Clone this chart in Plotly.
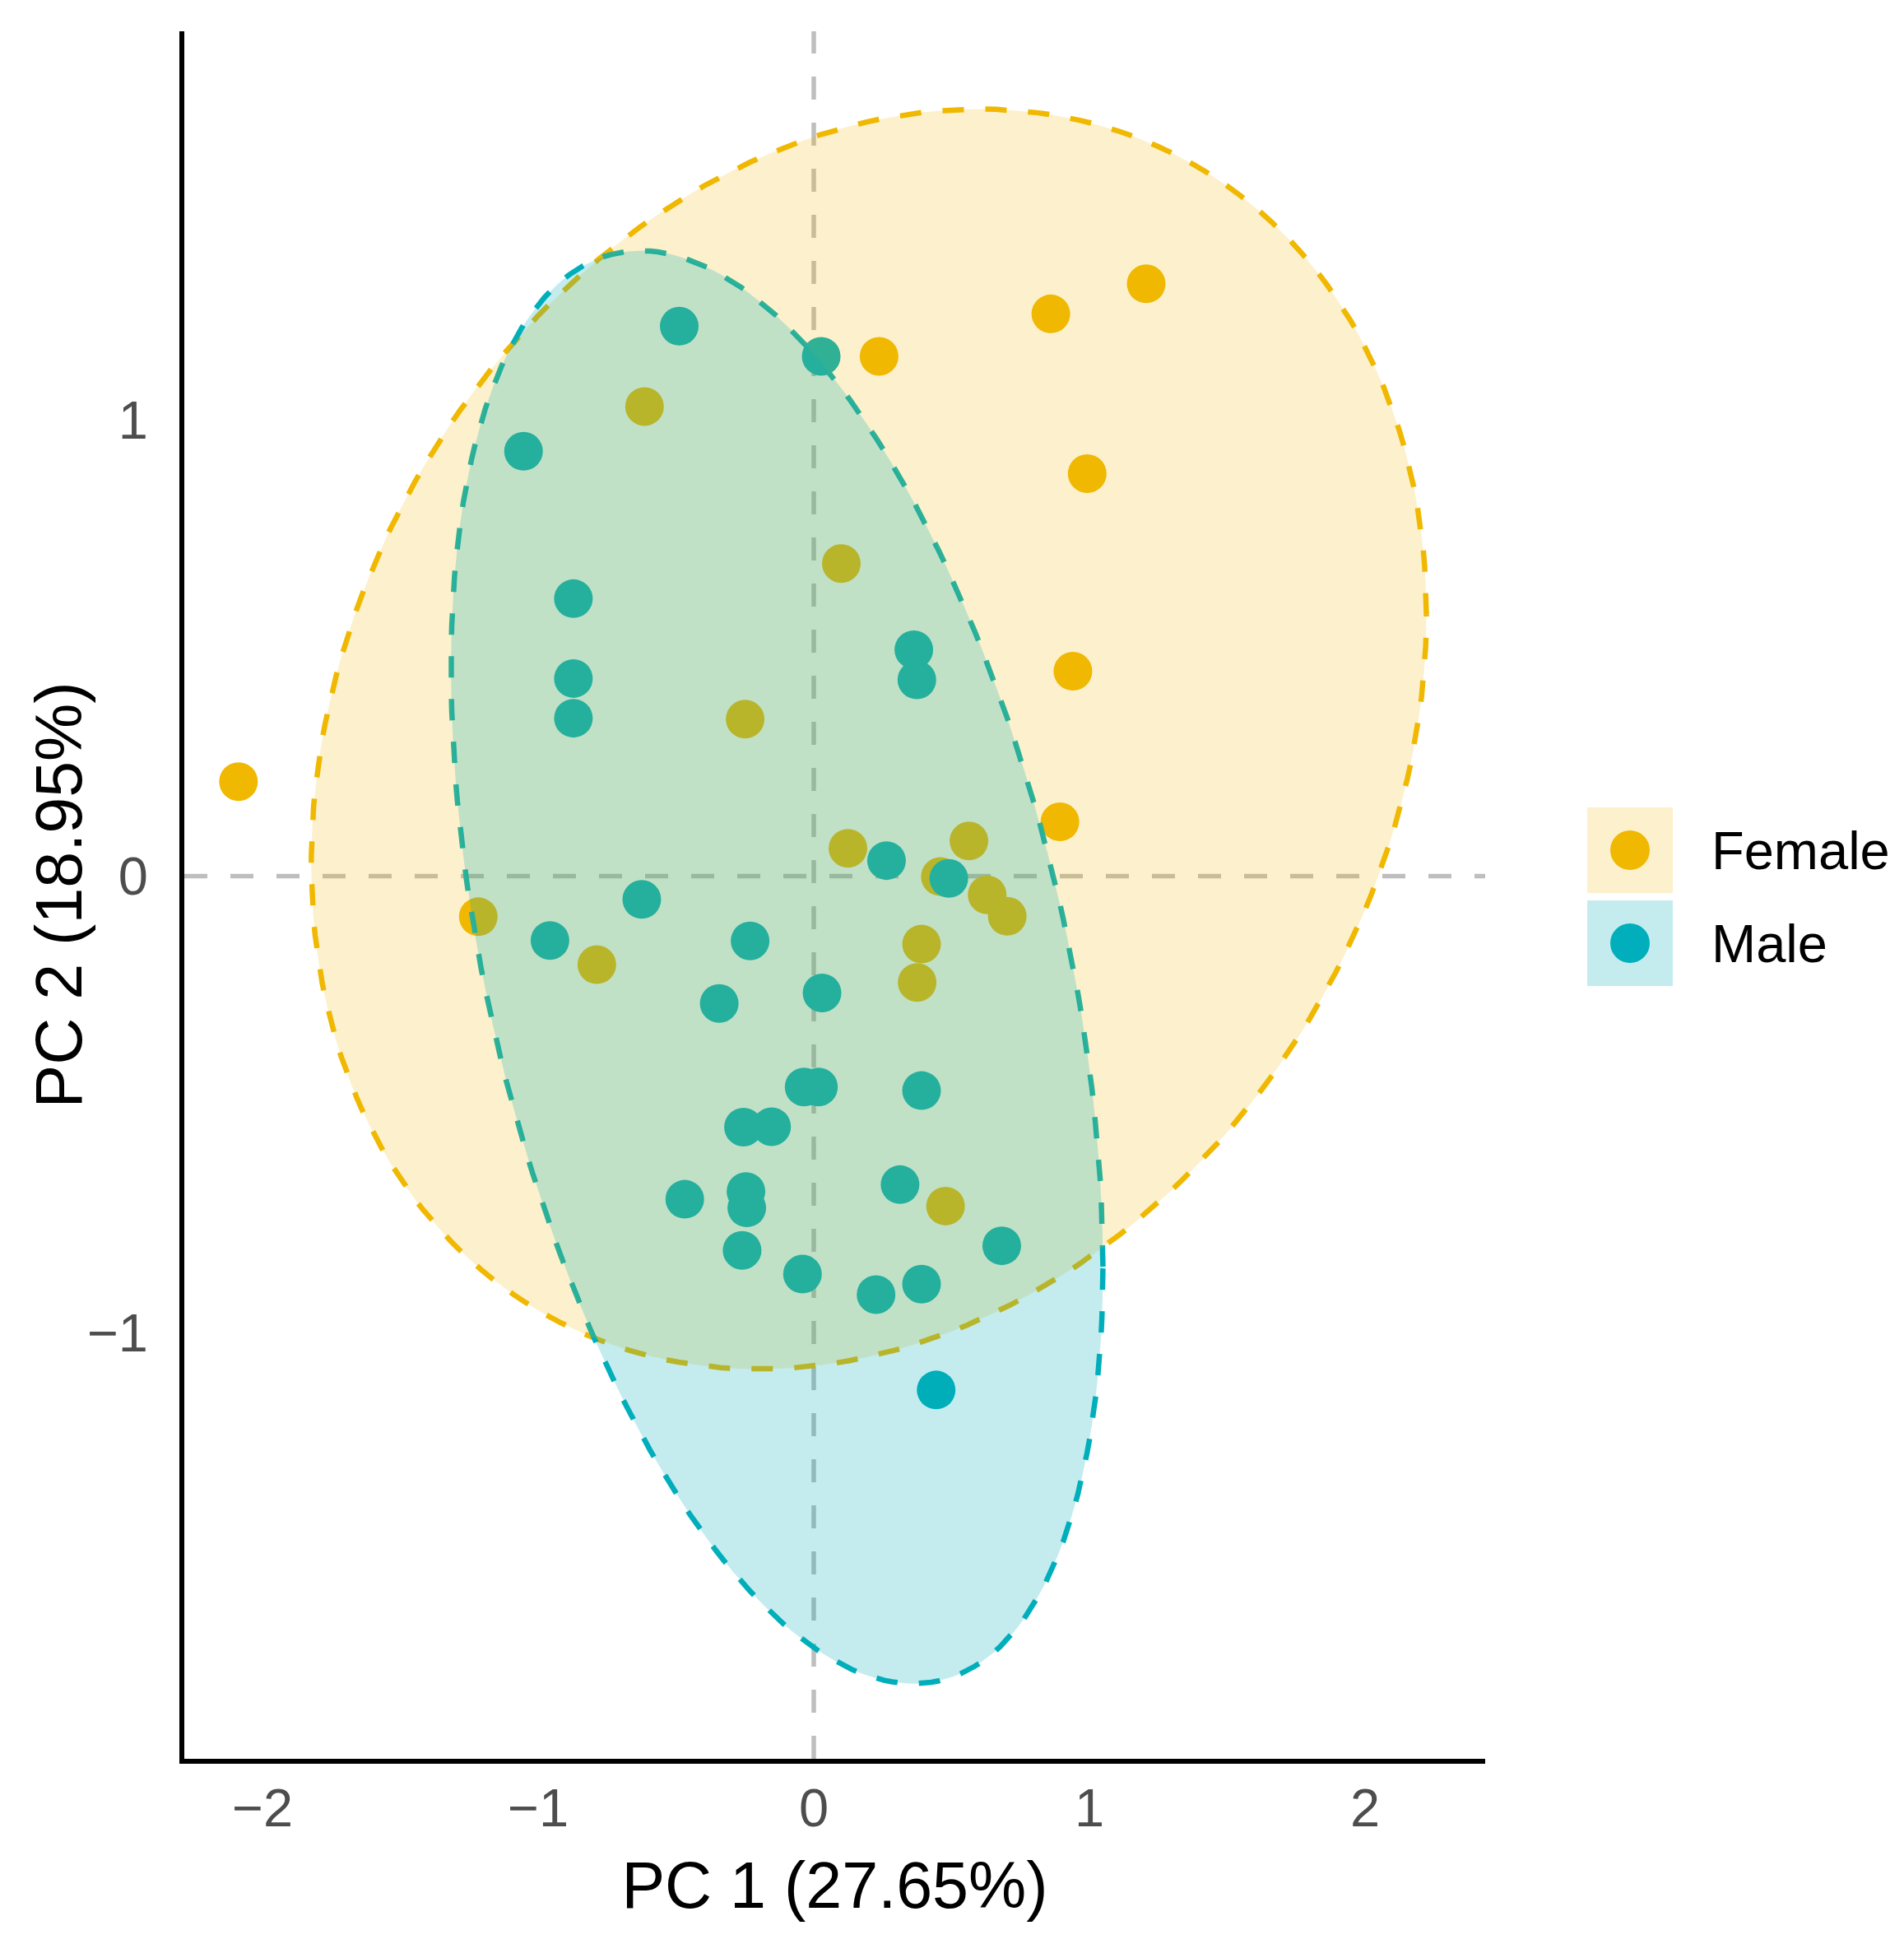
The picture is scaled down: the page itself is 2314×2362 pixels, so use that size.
import numpy as np
import plotly.graph_objects as go

# PCA individuals (PC1, PC2)
female_pc1 = [-0.614, 0.100, -0.249, -2.087, 0.237, 0.860, 1.206, 0.992, 0.940, 0.893,
              0.124, 0.563, 0.459, 0.629, 0.702, 0.391, 0.375, 0.478, -1.217, -0.787]
female_pc2 = [1.029, 0.685, 0.344, 0.207, 1.139, 1.232, 1.298, 0.882, 0.449, 0.119,
              0.061, 0.077, -0.001, -0.041, -0.088, -0.149, -0.233, -0.723, -0.089, -0.194]

male_pc1 = [-0.488, 0.027, -1.053, -0.872, -0.872, -0.872, 0.363, 0.374, 0.264, 0.490,
            0.030, -0.035, 0.017, 0.391, 0.313, 0.682, -0.041, 0.226, 0.391, -0.624,
            -0.957, -0.231, -0.343, -0.255, -0.153, -0.468, -0.246, -0.243, -0.260, 0.444]
male_pc2 = [1.205, 1.139, 0.931, 0.608, 0.433, 0.346, 0.496, 0.430, 0.034, -0.005,
            -0.256, -0.462, -0.462, -0.470, -0.676, -0.810, -0.872, -0.917, -0.894, -0.051,
            -0.141, -0.142, -0.279, -0.550, -0.549, -0.708, -0.691, -0.727, -0.820, -1.126]

groups = ["Female", "Male"]
colors = ["#F0B800", "#00AFBB"]
fills = ["rgba(240,184,0,0.2)", "rgba(0,175,187,0.23)"]

x_ticks = [-2, -1, 0, 1, 2]
y_ticks = [-1, 0, 1]
x_title = "PC 1 (27.65%)"
y_title = "PC 2 (18.95%)"


def conf_ellipse(x, y, level=0.95, n=240):
    # normal-theory ellipse: centre + sqrt(chi2_2(level)) * chol(cov) * unit circle
    x = np.asarray(x)
    y = np.asarray(y)
    cov = np.cov(x, y)
    r = np.sqrt(-2 * np.log(1 - level))
    L = np.linalg.cholesky(cov)
    t = np.linspace(0, 2 * np.pi, n)
    circ = np.vstack([np.cos(t), np.sin(t)])
    pts = L @ circ * r
    return x.mean() + pts[0], y.mean() + pts[1]


W, H = 2314, 2362
OFF = 8                                  # page body margin
PL, PR, PT, PB = 224, 1805, 38, 2137     # plot area in window px
X0, UX = 989, 335                        # px of x=0, px per unit
Y0, UY = 1064.5, 554.5


def fx(p):
    return (p - PL) / (PR - PL)


def fy(p):
    return (PB - p) / (PB - PT)


fig = go.Figure()

data = [(female_pc1, female_pc2), (male_pc1, male_pc2)]

# points first (the ellipses sit on top of them)
for (xs, ys), g, c in zip(data, groups, colors):
    fig.add_trace(go.Scatter(x=xs, y=ys, mode="markers", name=g, showlegend=False,
                             marker=dict(size=47, color=c, line=dict(width=0))))

ells = [conf_ellipse(xs, ys) for xs, ys in data]

# ellipse borders
for (ex, ey), c in zip(ells, colors):
    fig.add_trace(go.Scatter(x=ex, y=ey, mode="lines", showlegend=False, hoverinfo="skip",
                             line=dict(color=c, width=6.5, dash="26px,26px")))

# ellipse fills over everything
for (ex, ey), f in zip(ells, fills):
    fig.add_trace(go.Scatter(x=ex, y=ey, mode="lines", fill="toself", fillcolor=f,
                             showlegend=False, hoverinfo="skip",
                             line=dict(color="rgba(0,0,0,0)", width=0)))

shapes = [
    dict(type="line", xref="x", yref="paper", x0=0, x1=0, y0=0, y1=1, layer="below",
         line=dict(color="#BEBEBE", width=5.5, dash="28px,28px")),
    dict(type="line", xref="paper", yref="y", x0=0, x1=1, y0=0, y1=0, layer="below",
         line=dict(color="#BEBEBE", width=5.5, dash="28px,28px")),
]

# y axis title as a rotated annotation (standoff can't get it close enough)
annotations = [dict(text=y_title, xref="paper", yref="paper", x=fx(71), y=0.5,
                    xanchor="center", yanchor="middle", textangle=-90, showarrow=False,
                    font=dict(size=79, color="black"))]

key_tops = [981, 1094]
for i, g in enumerate(groups):
    top = key_tops[i]
    bot = top + 104
    cy = (top + bot) / 2
    shapes.append(dict(type="rect", xref="paper", yref="paper",
                       x0=fx(1929), x1=fx(2033), y0=fy(bot), y1=fy(top),
                       fillcolor=fills[i], line=dict(width=0)))
    shapes.append(dict(type="circle", xref="paper", yref="paper",
                       x0=fx(1981 - 24), x1=fx(1981 + 24), y0=fy(cy + 24), y1=fy(cy - 24),
                       fillcolor=colors[i], line=dict(width=0)))
    annotations.append(dict(text=g, xref="paper", yref="paper", x=fx(2078), y=fy(cy),
                            xanchor="left", yanchor="middle", showarrow=False,
                            font=dict(size=65, color="black")))

fig.update_layout(
    width=W - OFF, height=H - OFF,
    margin=dict(l=PL - OFF, r=W - PR, t=PT - OFF, b=H - PB),
    plot_bgcolor="white", paper_bgcolor="white",
    font=dict(family="Liberation Sans, Arial, sans-serif"),
    shapes=shapes, annotations=annotations,
    showlegend=False,
)

fig.update_xaxes(range=[(PL - X0) / UX, (PR - X0) / UX], tickvals=x_ticks,
                 showgrid=False, zeroline=False,
                 showline=True, linecolor="black", linewidth=6,
                 ticks="", ticklabelstandoff=-2,
                 tickfont=dict(size=65, color="#4D4D4D"),
                 title=dict(text=x_title, font=dict(size=79, color="black"), standoff=33))
fig.update_yaxes(range=[(Y0 - PB) / UY, (Y0 - PT) / UY], tickvals=y_ticks,
                 showgrid=False, zeroline=False,
                 showline=True, linecolor="black", linewidth=6,
                 ticks="outside", ticklen=25, tickcolor="rgba(0,0,0,0)",
                 tickfont=dict(size=65, color="#4D4D4D"))

fig.write_html("out.html")
